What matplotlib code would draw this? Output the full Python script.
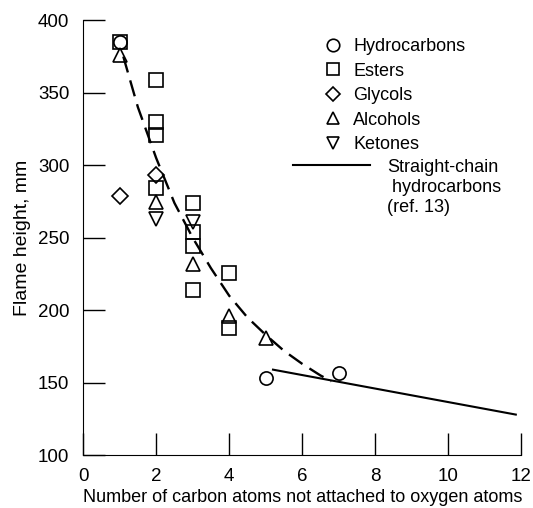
import matplotlib
matplotlib.use("Agg")
import matplotlib.pyplot as plt
from matplotlib.lines import Line2D

plt.rcParams['font.family'] = ['Liberation Sans', 'DejaVu Sans']

# measured flame heights, mm, by family
hc_x = [1, 5, 7]
hc_y = [385, 153, 157]
ester_x = [1, 2, 2, 2, 2, 3, 3, 3, 3, 4, 4]
ester_y = [385, 359, 330, 321, 284, 274, 254, 244, 214, 226, 188]
glycol_x = [1, 2]
glycol_y = [279, 293]
alcohol_x = [1, 2, 3, 4, 5]
alcohol_y = [376, 275, 232, 196, 181]
ketone_x = [2, 3]
ketone_y = [263, 261]

# faired curve through the oxygenated fuels
fair_x = [1.1, 1.5, 2.0, 2.5, 3.0, 3.5, 4.0, 4.5, 5.0, 5.5, 6.0, 6.5, 6.8]
fair_y = [375, 340, 305, 274, 250, 229, 210, 195, 183, 172, 163, 155, 151]

# straight-chain hydrocarbons (ref. 13)
ref_x = [5.2, 11.85]
ref_y = [159, 128]

xticks = [0, 2, 4, 6, 8, 10, 12]
yticks = [100, 150, 200, 250, 300, 350, 400]

fig = plt.figure(figsize=(5.33, 5.08), dpi=100)
ax = fig.add_axes([0.156, 0.104, 0.822, 0.856])

mk = dict(linestyle='none', markerfacecolor='none', markeredgecolor='black',
          markeredgewidth=1.2, markersize=9.5)
ax.plot(hc_x, hc_y, marker='o', **mk)
ax.plot(ester_x, ester_y, marker='s', **mk)
ax.plot(glycol_x, glycol_y, marker='D', **dict(mk, markersize=8))
ax.plot(alcohol_x, alcohol_y, marker='^', **mk)
ax.plot(ketone_x, ketone_y, marker='v', **mk)

ax.plot(fair_x, fair_y, color='black', lw=1.7, dashes=(7, 3.5))
ax.plot(ref_x, ref_y, color='black', lw=1.5)

ax.set_xlim(0, 12)
ax.set_ylim(100, 400)
ax.set_xticks(xticks)
ax.set_yticks(yticks)
ax.tick_params(direction='in', length=16, width=1, labelsize=13.5)
ax.tick_params(axis='y', pad=10)
ax.tick_params(axis='x', pad=9)
for s in ['top', 'right']:
    ax.spines[s].set_visible(False)
ax.set_xlabel("Number of carbon atoms not attached to oxygen atoms", fontsize=13, labelpad=3)
ax.set_ylabel("Flame height, mm", fontsize=14, labelpad=5)

handles = [Line2D([], [], marker=m, **dict(mk, markersize=9 if m != 'D' else 7.5))
           for m in ['o', 's', 'D', '^', 'v']]
names = ["Hydrocarbons", "Esters", "Glycols", "Alcohols", "Ketones"]
ax.legend(handles, names, loc='upper left', bbox_to_anchor=(0.53, 0.98),
          frameon=False, fontsize=13, handlelength=1.0, handletextpad=0.6,
          labelspacing=0.42, borderpad=0)

# key for the reference line, drawn beside the text
ax.plot([0.479, 0.655], [0.667, 0.667], color='black', lw=1.5,
        transform=ax.transAxes, clip_on=False)
ax.text(0.694, 0.681, "Straight-chain\n hydrocarbons\n(ref. 13)", transform=ax.transAxes,
        fontsize=13, va='top', ha='left', linespacing=1.22)

fig.savefig("out.png", dpi=100)
